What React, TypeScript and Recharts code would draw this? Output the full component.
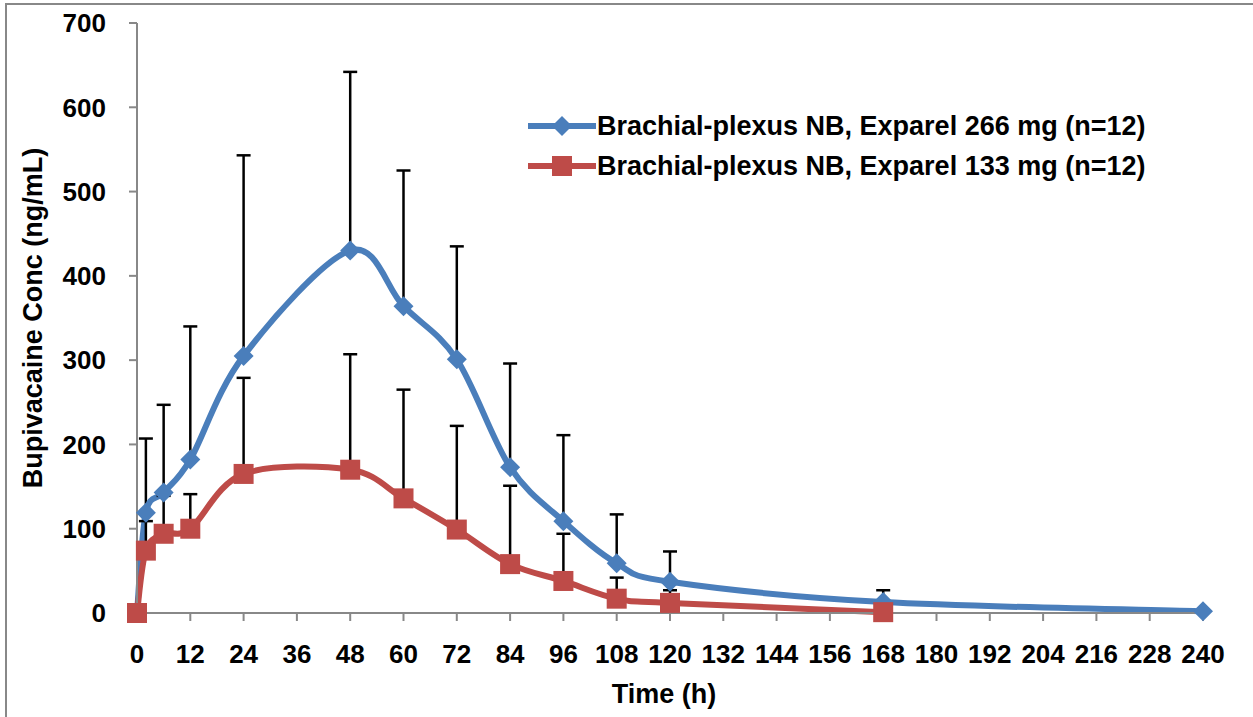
import { ComposedChart, ErrorBar, Legend, Line, Scatter, XAxis, YAxis } from 'recharts'

// hours after dose
const HOURS_266 = [0, 2, 6, 12, 24, 48, 60, 72, 84, 96, 108, 120, 168, 240]
const HOURS_133 = [0, 2, 6, 12, 24, 48, 60, 72, 84, 96, 108, 120, 168]

// mean plasma concentration (ng/mL) and +SD
const CONC_266 = [0, 119, 143, 182, 305, 430, 364, 301, 173, 109, 59, 37, 13, 2]
const SD_266 = [0, 88, 104, 158, 238, 212, 161, 134, 123, 102, 58, 36, 14, 0]
const CONC_133 = [0, 74, 94, 100, 165, 170, 136, 99, 58, 38, 17, 12, 1]
const SD_133 = [0, 35, 45, 41, 114, 137, 129, 123, 93, 56, 25, 15, 0]

const X_TICKS = [0, 12, 24, 36, 48, 60, 72, 84, 96, 108, 120, 132, 144, 156, 168, 180, 192, 204, 216, 228, 240]
const Y_TICKS = [0, 100, 200, 300, 400, 500, 600, 700]

const NAME_266 = 'Brachial-plexus NB, Exparel 266 mg (n=12)'
const NAME_133 = 'Brachial-plexus NB, Exparel 133 mg (n=12)'

const BLUE = '#4a7ebb'
const RED = '#be4b48'
const AXIS_GREY = '#888888'
const FONT = '"Liberation Sans", Arial, sans-serif'

const data266 = HOURS_266.map((t, i) => ({ t, conc: CONC_266[i], err: [0, SD_266[i]] }))
const data133 = HOURS_133.map((t, i) => ({ t, conc: CONC_133[i], err: [0, SD_133[i]] }))

// Excel style smoothed line (catmull-rom through the points)
const excelCurve = (context: any) => {
  let pts: number[][] = []
  return {
    areaStart() {},
    areaEnd() {},
    lineStart() {
      pts = []
    },
    lineEnd() {
      if (!pts.length) return
      context.moveTo(pts[0][0], pts[0][1])
      for (let i = 0; i < pts.length - 1; i++) {
        const p0 = pts[i - 1] || pts[i]
        const p1 = pts[i]
        const p2 = pts[i + 1]
        const p3 = pts[i + 2] || p2
        context.bezierCurveTo(
          p1[0] + (p2[0] - p0[0]) / 6,
          p1[1] + (p2[1] - p0[1]) / 6,
          p2[0] - (p3[0] - p1[0]) / 6,
          p2[1] - (p3[1] - p1[1]) / 6,
          p2[0],
          p2[1],
        )
      }
    },
    point(x: number, y: number) {
      pts.push([+x, +y])
    },
  }
}

const Diamond = ({ cx, cy, r = 10, fill = BLUE }: any) => (
  <path d={`M${cx},${cy - r}L${cx + r},${cy}L${cx},${cy + r}L${cx - r},${cy}Z`} fill={fill} />
)

const Square = ({ cx, cy, r = 10, fill = RED }: any) => (
  <rect x={cx - r} y={cy - r} width={r * 2} height={r * 2} fill={fill} />
)

const renderLegend = () => (
  <div style={{ fontFamily: FONT, fontWeight: 700, fontSize: 27, color: '#000', textAlign: 'left' }}>
    {[
      { name: NAME_266, color: BLUE, marker: 'diamond' },
      { name: NAME_133, color: RED, marker: 'square' },
    ].map((item) => (
      <div key={item.name} style={{ display: 'flex', alignItems: 'center', height: 40 }}>
        <svg width={70} height={24}>
          <line x1={1} x2={69} y1={12} y2={12} stroke={item.color} strokeWidth={6} />
          {item.marker === 'diamond' ? (
            <Diamond cx={35} cy={12} r={10} />
          ) : (
            <Square cx={35} cy={12} r={10} />
          )}
        </svg>
        <span>{item.name}</span>
      </div>
    ))}
  </div>
)

const YTitle = ({ viewBox }: any) => {
  const x = viewBox.x + 42
  const y = viewBox.y + viewBox.height / 2
  return (
    <text
      x={x}
      y={y}
      transform={`rotate(-90 ${x} ${y})`}
      textAnchor='middle'
      fontFamily={FONT}
      fontWeight={700}
      fontSize={27}
      fill='#000'
    >
      Bupivacaine Conc (ng/mL)
    </text>
  )
}

const XTitle = ({ viewBox }: any) => (
  <text
    x={viewBox.x + viewBox.width / 2 - 6}
    y={viewBox.y + 90}
    textAnchor='middle'
    fontFamily={FONT}
    fontWeight={700}
    fontSize={27}
    fill='#000'
  >
    Time (h)
  </text>
)

const tickStyle = { fill: '#000', fontSize: 26, fontWeight: 700, fontFamily: FONT }

export default function App() {
  return (
    <div
      style={{
        position: 'absolute',
        left: 0,
        top: 0,
        width: 1253,
        height: 717,
        overflow: 'hidden',
        background: '#fff',
      }}
    >
      <div
        style={{
          position: 'absolute',
          left: 5,
          top: 3,
          width: 1400,
          height: 900,
          border: `2px solid ${AXIS_GREY}`,
        }}
      />
      <ComposedChart
        width={1253}
        height={717}
        margin={{ top: 23, right: 50, bottom: 0, left: 0 }}
        style={{ position: 'absolute', left: 0, top: 0 }}
      >
        <XAxis
          dataKey='t'
          type='number'
          domain={[0, 240]}
          ticks={X_TICKS}
          interval={0}
          height={104}
          tick={tickStyle}
          tickSize={8}
          tickMargin={24}
          axisLine={{ stroke: AXIS_GREY, strokeWidth: 2 }}
          tickLine={{ stroke: AXIS_GREY, strokeWidth: 2 }}
          allowDuplicatedCategory={false}
          label={<XTitle />}
        />
        <YAxis
          type='number'
          domain={[0, 700]}
          ticks={Y_TICKS}
          interval={0}
          width={137}
          tick={tickStyle}
          tickSize={8}
          tickMargin={23}
          axisLine={{ stroke: AXIS_GREY, strokeWidth: 2 }}
          tickLine={{ stroke: AXIS_GREY, strokeWidth: 2 }}
          label={<YTitle />}
        />
        <Legend
          content={renderLegend}
          layout='horizontal'
          verticalAlign='middle'
          align='center'
          wrapperStyle={{ left: 527, top: 106, width: 700 }}
        />
        {/* curves with their +SD error bars */}
        <Line
          data={data266}
          dataKey='conc'
          name={NAME_266}
          type={excelCurve as any}
          stroke={BLUE}
          strokeWidth={6}
          dot={false}
          activeDot={false}
          isAnimationActive={false}
        >
          <ErrorBar dataKey='err' direction='y' width={7} stroke='#000' strokeWidth={2.5} />
        </Line>
        <Line
          data={data133}
          dataKey='conc'
          name={NAME_133}
          type={excelCurve as any}
          stroke={RED}
          strokeWidth={6}
          dot={false}
          activeDot={false}
          isAnimationActive={false}
        >
          <ErrorBar dataKey='err' direction='y' width={7} stroke='#000' strokeWidth={2.5} />
        </Line>
        {/* markers on top */}
        <Scatter
          data={data266}
          dataKey='conc'
          legendType='none'
          shape={(p: any) => <Diamond cx={p.cx} cy={p.cy} />}
          isAnimationActive={false}
        />
        <Scatter
          data={data133}
          dataKey='conc'
          legendType='none'
          shape={(p: any) => <Square cx={p.cx} cy={p.cy} />}
          isAnimationActive={false}
        />
      </ComposedChart>
    </div>
  )
}
